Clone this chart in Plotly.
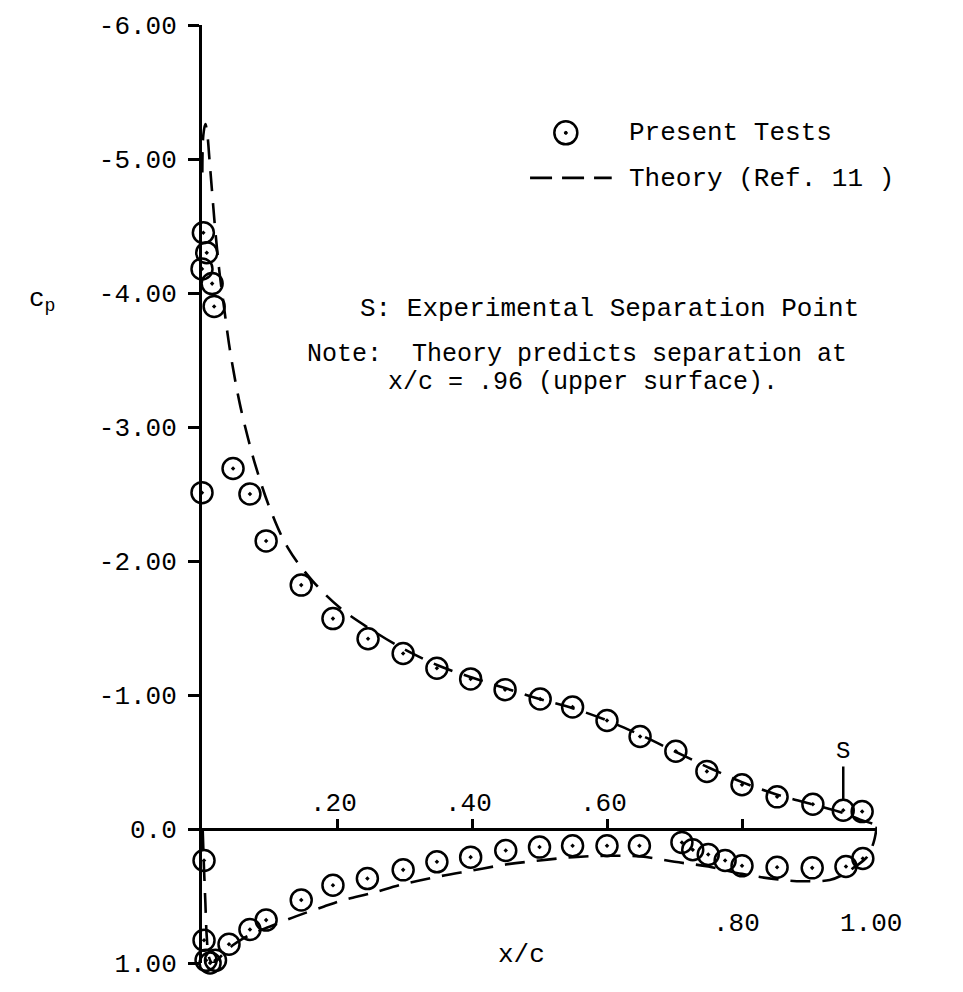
import plotly.graph_objects as go

# ---- measured pressure coefficients (present tests) ----
upper_x = [0.000, 0.000, 0.002, 0.007, 0.015, 0.018, 0.046, 0.071, 0.095, 0.147,
           0.194, 0.246, 0.298, 0.348, 0.398, 0.449, 0.501, 0.549, 0.600, 0.649,
           0.702, 0.748, 0.800, 0.852, 0.905, 0.950, 0.978, 1.004]
upper_cp = [-2.51, -4.18, -4.45, -4.30, -4.07, -3.90, -2.69, -2.50, -2.15, -1.82,
            -1.57, -1.42, -1.31, -1.20, -1.12, -1.04, -0.97, -0.91, -0.81, -0.69,
            -0.58, -0.43, -0.33, -0.24, -0.185, -0.14, -0.13, -0.13]

lower_x = [0.003, 0.003, 0.006, 0.012, 0.020, 0.040, 0.071, 0.095, 0.147, 0.194,
           0.245, 0.298, 0.348, 0.398, 0.450, 0.500, 0.549, 0.600, 0.648, 0.711,
           0.727, 0.750, 0.775, 0.800, 0.852, 0.904, 0.954, 0.979]
lower_cp = [0.235, 0.83, 0.98, 1.00, 0.98, 0.86, 0.75, 0.68, 0.53, 0.42,
            0.37, 0.305, 0.245, 0.21, 0.16, 0.135, 0.125, 0.125, 0.125, 0.10,
            0.155, 0.19, 0.235, 0.275, 0.285, 0.29, 0.28, 0.22]

# ---- theoretical distribution (Ref. 11) ----
theory_up_x = [0.0005, 0.002, 0.005, 0.008, 0.011, 0.015, 0.020, 0.026, 0.033, 0.040,
               0.048, 0.057, 0.068, 0.080, 0.100, 0.127, 0.164, 0.207, 0.250, 0.300,
               0.350, 0.400, 0.450, 0.500, 0.550, 0.600, 0.650, 0.700, 0.750, 0.800,
               0.850, 0.900, 0.950, 0.975, 1.000]
theory_up_cp = [-4.90, -5.18, -5.26, -5.18, -5.00, -4.75, -4.45, -4.15, -3.88, -3.62,
                -3.38, -3.15, -2.92, -2.70, -2.40, -2.10, -1.85, -1.64, -1.49, -1.34,
                -1.22, -1.13, -1.05, -0.97, -0.90, -0.81, -0.70, -0.58, -0.46, -0.35,
                -0.26, -0.19, -0.12, -0.07, -0.03]

theory_lo_x = [0.001, 0.003, 0.005, 0.007, 0.010, 0.015, 0.020, 0.030, 0.045, 0.060,
               0.080, 0.100, 0.140, 0.180, 0.210, 0.250, 0.300, 0.350, 0.400, 0.450,
               0.500, 0.550, 0.600, 0.650, 0.700, 0.750, 0.800, 0.850, 0.890, 0.930,
               0.950, 0.965, 0.985, 0.995, 1.000]
theory_lo_cp = [0.00, 0.30, 0.55, 0.80, 0.95, 1.00, 0.99, 0.94, 0.87, 0.82,
                0.77, 0.73, 0.65, 0.58, 0.53, 0.48, 0.41, 0.355, 0.31, 0.265,
                0.235, 0.21, 0.20, 0.205, 0.245, 0.28, 0.335, 0.375, 0.39, 0.38,
                0.34, 0.29, 0.21, 0.10, -0.03]

# ---- axis ticks ----
y_tick_vals = [-6, -5, -4, -3, -2, -1, 0, 1]
y_tick_text = ["-6.00", "-5.00", "-4.00", "-3.00", "-2.00", "-1.00", "0.0", "1.00"]
x_tick_vals = [0.2, 0.4, 0.6, 0.8, 1.0]
x_tick_text = [".20", ".40", ".60", ".80", "1.00"]

separation_x = 0.95
separation_cp = -0.22

FONT = "Liberation Mono, Courier New, monospace"
INK = "black"
FS = 26

fig = go.Figure()

dash_style = dict(color=INK, width=2.6, dash="20px,12px")
fig.add_trace(go.Scatter(x=theory_up_x, y=theory_up_cp, mode="lines",
                         line=dash_style, line_shape="spline", showlegend=False))
fig.add_trace(go.Scatter(x=theory_lo_x, y=theory_lo_cp, mode="lines",
                         line=dash_style, line_shape="spline", showlegend=False))

marker_style = dict(symbol="circle-open-dot", size=21, color=INK,
                    line=dict(color=INK, width=2.5))
fig.add_trace(go.Scatter(x=upper_x, y=upper_cp, mode="markers", marker=marker_style,
                         cliponaxis=False, showlegend=False))
fig.add_trace(go.Scatter(x=lower_x, y=lower_cp, mode="markers", marker=marker_style,
                         cliponaxis=False, showlegend=False))


def label(x, y, text, xref="paper", yref="paper", xanchor="left", size=FS, **kw):
    return dict(x=x, y=y, xref=xref, yref=yref, text=text, xanchor=xanchor,
                yanchor="middle", showarrow=False, font=dict(size=size), **kw)


annotations = []
# x tick labels: the forward ones sit above the axis, the aft ones well below
for v, t in zip(x_tick_vals, x_tick_text):
    if v < 0.7:
        annotations.append(label(v, -0.19, t, "x", "y", "center", xshift=-4))
    else:
        annotations.append(label(v, 0.71, t, "x", "y", "center", xshift=-6))

annotations += [
    label(0.474, 0.94, "x/c", "x", "y", "center"),
    label(-0.237, 0.707, "c<sub>p</sub>", xanchor="center"),
    # separation marker
    dict(x=separation_x, y=separation_cp, xref="x", yref="y", text="S",
         showarrow=True, arrowhead=0, arrowwidth=2.5, arrowcolor=INK,
         ax=0, ay=-48, standoff=0, font=dict(size=FS - 2)),
    # legend texts
    label(0.630, 0.885, "Present Tests"),
    label(0.630, 0.836, "Theory (Ref. 11 )"),
    # notes
    label(0.231, 0.697, "S: Experimental Separation Point"),
    label(0.153, 0.649, "Note:  Theory predicts separation at", size=25),
    label(0.273, 0.619, "x/c = .96 (upper surface).", size=25),
]

shapes = [
    # legend symbol: open circle with centre dot
    dict(type="circle", xref="paper", yref="paper", xsizemode="pixel", ysizemode="pixel",
         xanchor=0.539, yanchor=0.885, x0=-11.5, x1=11.5, y0=-11.5, y1=11.5,
         line=dict(color=INK, width=2.5)),
    dict(type="circle", xref="paper", yref="paper", xsizemode="pixel", ysizemode="pixel",
         xanchor=0.539, yanchor=0.885, x0=-1.5, x1=1.5, y0=-1.5, y1=1.5,
         line=dict(color=INK, width=1), fillcolor=INK),
    # legend symbol: dashed line
    dict(type="line", xref="paper", yref="paper", x0=0.486, x1=0.607, y0=0.837, y1=0.837,
         line=dict(color=INK, width=2.6, dash="22px,10px")),
]

fig.update_layout(
    width=963, height=992,
    margin=dict(l=202, r=86, t=22, b=22),
    paper_bgcolor="white", plot_bgcolor="white",
    font=dict(family=FONT, size=FS, color=INK),
    showlegend=False,
    annotations=annotations,
    shapes=shapes,
    xaxis=dict(range=[0, 1.0], anchor="free", position=1 / 7,
               showline=True, linecolor=INK, linewidth=3,
               tickvals=x_tick_vals[:4], ticks="inside", ticklen=9, tickwidth=2.5,
               tickcolor=INK, showticklabels=False,
               showgrid=False, zeroline=False),
    yaxis=dict(range=[1.0, -6.0], showline=True, linecolor=INK, linewidth=3,
               tickvals=y_tick_vals, ticktext=y_tick_text,
               ticks="outside", ticklen=11, tickwidth=2.5, tickcolor=INK,
               ticklabelstandoff=6,
               tickfont=dict(size=FS), showgrid=False, zeroline=False),
)

fig.write_html("out.html")
